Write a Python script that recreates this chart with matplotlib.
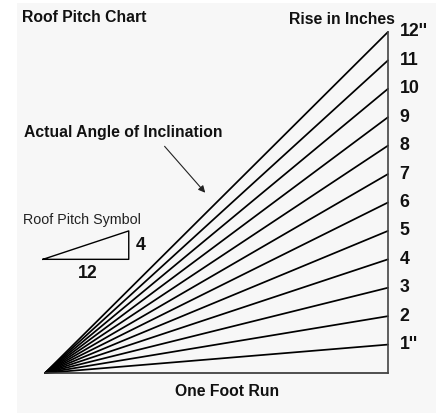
import matplotlib.pyplot as plt
import numpy as np
from matplotlib.patches import Rectangle

plt.rcParams['font.family'] = ['Liberation Sans', 'DejaVu Sans']

# data: one foot run, rise in inches
run = 12
rises = np.arange(1, 13)
rise_labels = ["1''"] + [str(r) for r in range(2, 12)] + ["12''"]

# pitch symbol (12 run : 4 rise, drawn at quarter scale)
sym_run = 12
sym_rise = 4
sym_scale = 0.25
sym_origin = (-0.07, 4.0)

fig = plt.figure(figsize=(4.39, 4.16), dpi=100)
fig.patch.set_facecolor('white')
ax = fig.add_axes([0, 0, 1, 1])
ax.set_facecolor('none')
ax.set_xlim(-1.575, 13.786)
ax.set_ylim(-1.513, 13.125)
ax.axis('off')
ax.add_patch(Rectangle((17/439, 3/416), 419/439, 410/416,
                       transform=fig.transFigure, facecolor='#f7f7f7',
                       edgecolor='none', zorder=0, clip_on=False))

# rafters
for r in rises:
    ax.plot([0, run], [0, r], color='black', lw=1.25, solid_capstyle='round')
ax.plot([0, run], [0, 0], color='#333333', lw=1.2)
ax.plot([run, run], [0, rises[-1]], color='#444444', lw=1.2)

for r, lab in zip(rises, rise_labels):
    ax.text(run + 0.4, r, lab, fontsize=12.8, fontweight='bold',
            ha='left', va='center', color='#111111')

# pitch symbol
x0, y0 = sym_origin
w = sym_run * sym_scale
h = sym_rise * sym_scale
ax.plot([x0, x0 + w, x0 + w, x0], [y0, y0, y0 + h, y0], color='black', lw=1.0)
ax.text(x0 + w + 0.25, y0 + h / 2, str(sym_rise), fontsize=12.8, fontweight='bold',
        ha='left', va='center', color='#111111')
ax.text(x0 + w / 2 + 0.07, y0 - 0.5, str(sym_run), fontsize=12.8, fontweight='bold',
        ha='center', va='center', color='#111111')
ax.text(-0.77, 5.4, 'Roof Pitch Symbol', fontsize=10.3, ha='left', va='center',
        color='#222222')

# titles
ax.text(-0.8, 12.52, 'Roof Pitch Chart', fontsize=11.3, fontweight='bold',
        ha='left', va='center', color='#111111')
ax.text(8.55, 12.45, 'Rise in Inches', fontsize=11.3, fontweight='bold',
        ha='left', va='center', color='#111111')
ax.text(6.37, -0.66, 'One Foot Run', fontsize=11.3, fontweight='bold',
        ha='center', va='center', color='#111111')
ax.text(-0.73, 8.48, 'Actual Angle of Inclination', fontsize=11.3, fontweight='bold',
        ha='left', va='center', color='#111111')
ax.annotate('', xy=(5.67, 6.27), xytext=(4.12, 8.05),
            arrowprops=dict(arrowstyle='-|>', color='#222222', lw=0.8,
                            mutation_scale=10))

fig.savefig('out.png', dpi=100, facecolor=fig.get_facecolor())
